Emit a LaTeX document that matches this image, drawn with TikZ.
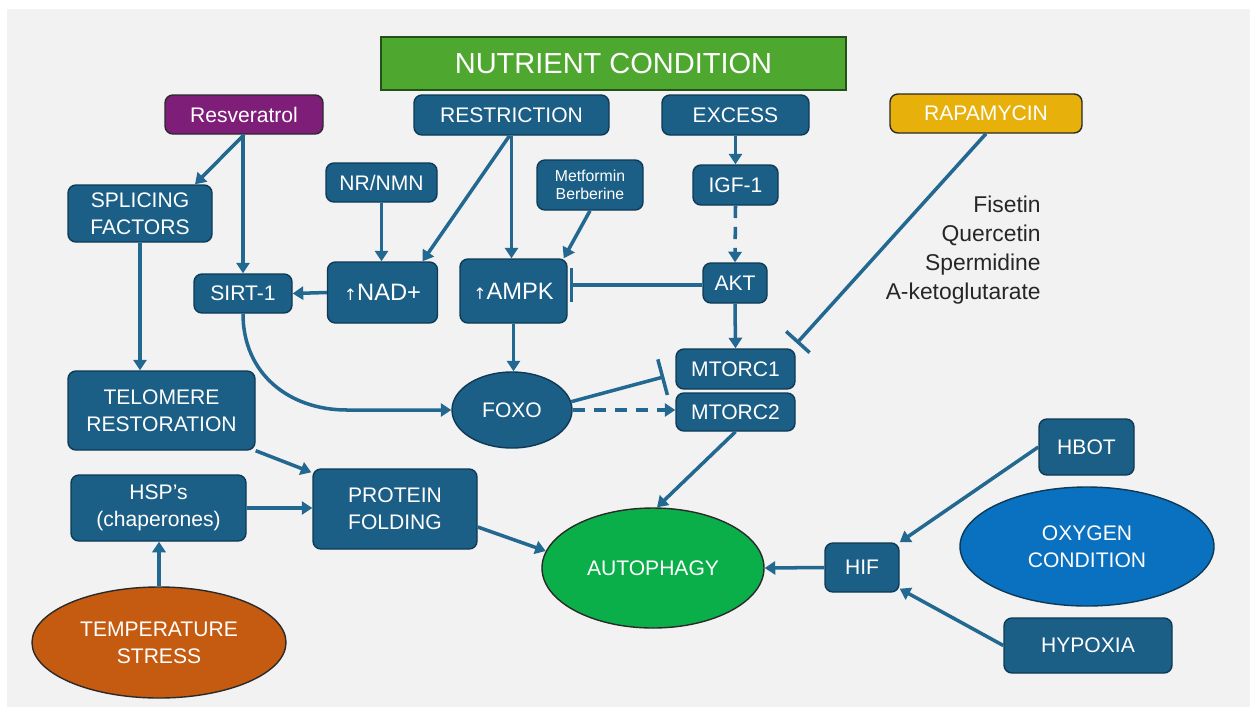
\documentclass[tikz,border=0pt]{standalone}
\usepackage{fontspec}
\setmainfont{Liberation Sans}
\newfontfamily\arrowfont{DejaVu Sans}
\usetikzlibrary{arrows.meta,shapes.geometric,calc}

\definecolor{panel}{HTML}{F2F2F2}
\definecolor{boxblue}{HTML}{1B5E86}
\definecolor{boxedge}{HTML}{0E3A55}
\definecolor{wire}{HTML}{236890}
\definecolor{nutrgreen}{HTML}{4EA72E}
\definecolor{nutredge}{HTML}{24501A}
\definecolor{resvpurple}{HTML}{7E1E78}
\definecolor{rapagold}{HTML}{E8B00A}
\definecolor{autogreen}{HTML}{0BAF4A}
\definecolor{oxyblue}{HTML}{0A70C0}
\definecolor{temporange}{HTML}{C55A11}
\definecolor{darkedge}{HTML}{2A2A2A}
\definecolor{listtext}{HTML}{262626}

\newcommand\uparrowglyph{{\arrowfont\fontsize{9}{9}\selectfont ↑}}

\tikzset{
  sz/.style 2 args={minimum width=#1*0.02cm, minimum height=#2*0.02cm},
  lbl/.style={font=\fontsize{12}{15.5}\selectfont, text=white, align=center, inner sep=0pt},
  box/.style={lbl, draw=boxedge, fill=boxblue, line width=0.8pt, rounded corners=4.5pt},
  oval/.style={lbl, ellipse, draw=darkedge, line width=0.8pt},
  conn/.style={draw=wire, line width=2pt, -{Triangle[length=6pt,width=7.5pt]}},
  inhib/.style 2 args={draw=wire, line width=2pt, -{Bar[width=#1pt]}, shorten >=#2pt},
  dashconn/.style={conn, dash pattern=on 7pt off 5pt},
  listline/.style={font=\fontsize{13}{16}\selectfont, text=listtext, inner sep=0pt, anchor=base east},
}

\begin{document}
\begin{tikzpicture}[x=0.02cm, y=-0.02cm]
  % page and panel
  \fill[white] (0,0) rectangle (1250,707);
  \fill[panel] (7,9) rectangle (1250,707);
  \useasboundingbox (0,0) rectangle (1250,707);

  % top row
  \node[lbl, sz={465}{53}, draw=nutredge, fill=nutrgreen, line width=0.9pt,
        font=\fontsize{16.5}{18}\selectfont] (nutr) at (613.5,63.5) {NUTRIENT CONDITION};
  \node[box, sz={158}{39}, fill=resvpurple, draw=darkedge] (resv) at (244,114.5) {Resveratrol};
  \node[box, sz={195}{40}] (restr) at (511.5,115) {RESTRICTION};
  \node[box, sz={147}{40}] (excess) at (735.5,115) {EXCESS};
  \node[box, sz={192}{39}, fill=rapagold, draw=darkedge] (rapa) at (986,113.5) {RAPAMYCIN};

  % second row
  \node[box, sz={144}{57}] (splice) at (140,213.5) {SPLICING\\FACTORS};
  \node[box, sz={111}{39}] (nrnmn) at (381.5,182.5) {NR/NMN};
  \node[box, sz={106}{50}, font=\fontsize{9}{10.3}\selectfont] (metf) at (590,185) {Metformin\\Berberine};
  \node[box, sz={85}{40}] (igf) at (735.5,185) {IGF-1};

  % third row
  \node[box, sz={98}{39}] (sirt) at (243,293.5) {SIRT-1};
  \node[box, sz={110}{61}, font=\fontsize{13.5}{15}\selectfont] (nad) at (382.5,292.5) {\uparrowglyph NAD+};
  \node[box, sz={107}{64}, font=\fontsize{13.5}{15}\selectfont] (ampk) at (513.5,291) {\uparrowglyph AMPK};
  \node[box, sz={64}{40}] (akt) at (735,283) {AKT};

  % supplement list
  \node[listline] (fis1) at (1041,212) {Fisetin};
  \node[listline] (fis2) at (1041,241) {Quercetin};
  \node[listline] (fis3) at (1041,270) {Spermidine};
  \node[listline] (fis4) at (1041,299) {A-ketoglutarate};

  % mTOR complexes and FOXO
  \node[box, sz={119}{40}] (mtorc1) at (735.5,369) {MTORC1};
  \node[box, sz={119}{38}] (mtorc2) at (735.5,412) {MTORC2};
  \node[oval, sz={120}{76}, fill=boxblue, draw=boxedge] (foxo) at (512,410) {FOXO};

  % left column
  \node[box, sz={187}{79}] (telo) at (161.5,410.5) {TELOMERE\\RESTORATION};
  \node[box, sz={175}{66}] (hsp) at (158.5,508) {HSP’s\\(chaperones)};
  \node[box, sz={164}{80}] (prot) at (395,509) {PROTEIN\\FOLDING};
  \node[oval, sz={254}{111}, fill=temporange] (temp) at (159,642.5) {TEMPERATURE\\STRESS};

  % autophagy and oxygen
  \node[oval, sz={222}{120}, fill=autogreen] (auto) at (653,568) {AUTOPHAGY};
  \node[box, sz={74}{49}] (hif) at (862,567.5) {HIF};
  \node[box, sz={95}{56}] (hbot) at (1086.5,447) {HBOT};
  \node[oval, sz={254}{119}, fill=oxyblue, draw=boxedge] (oxy) at (1087,546.5) {OXYGEN\\CONDITION};
  \node[box, sz={168}{55}] (hypo) at (1088,645.5) {HYPOXIA};

  % resveratrol branch
  \draw[conn] (resv.south) -- ($(splice.north)+(55,0)$);
  \draw[conn] (resv.south -| sirt.north) -- (sirt.north);
  \draw[conn] (splice.south) -- (splice.south |- telo.north);

  % nutrient branch
  \draw[conn] (nrnmn.south) -- (nrnmn.south |- nad.north);
  \draw[conn] ($(restr.south)+(-2,0)$) -- ($(nad.north)+(40,0)$);
  \draw[conn] (restr.south) -- (restr.south |- ampk.north);
  \draw[conn] (metf.south) -- ($(ampk.north east)+(-4,0)$);
  \draw[conn] (excess.south) -- (igf.north);
  \draw[dashconn] (igf.south) -- (akt.north);
  \draw[inhib={19}{1.2}] ($(akt.west)+(0,2)$) -- ($(akt.west -| ampk.east)+(0,2)$);
  \draw[conn] (nad.west) -- (sirt.east);
  \draw[conn] (ampk.south) -- (ampk.south |- foxo.north);
  \draw[conn] (akt.south) -- (mtorc1.north);
  \draw[inhib={18}{0}] (rapa.south) -- ($(mtorc1.north east)+(1,-5)$);

  % SIRT-1 to FOXO
  \coordinate (sirtbend) at (347,410);
  \draw[conn] (sirt.south) .. controls ($(sirt.south)+(0,60)$) and ($(sirtbend)+(-58,0)$) .. (sirtbend) -- (foxo.west);

  % FOXO and mTOR
  \draw[inhib={21}{0}] (foxo.8) -- ($(mtorc1.south west)+(-11,-13)$);
  \draw[dashconn] (foxo.east) -- (foxo.east -| mtorc2.west);
  \draw[conn] (mtorc2.south) -- ($(auto.north)+(4,0)$);

  % protein folding branch
  \draw[conn] (telo.south east) -- ($(prot.north west)+(-1,4)$);
  \draw[conn] (hsp.east) -- (hsp.east -| prot.west);
  \draw[conn] (temp.north) -- (temp.north |- hsp.south);
  \draw[conn] ($(prot.east)+(0,18)$) -- (auto.171);

  % oxygen branch
  \draw[conn] (hif.west) -- (auto.east);
  \draw[conn] (hbot.west) -- (hif.north east);
  \draw[conn] (hypo.west) -- ($(hif.south east)+(0,-4)$);
\end{tikzpicture}
\end{document}
